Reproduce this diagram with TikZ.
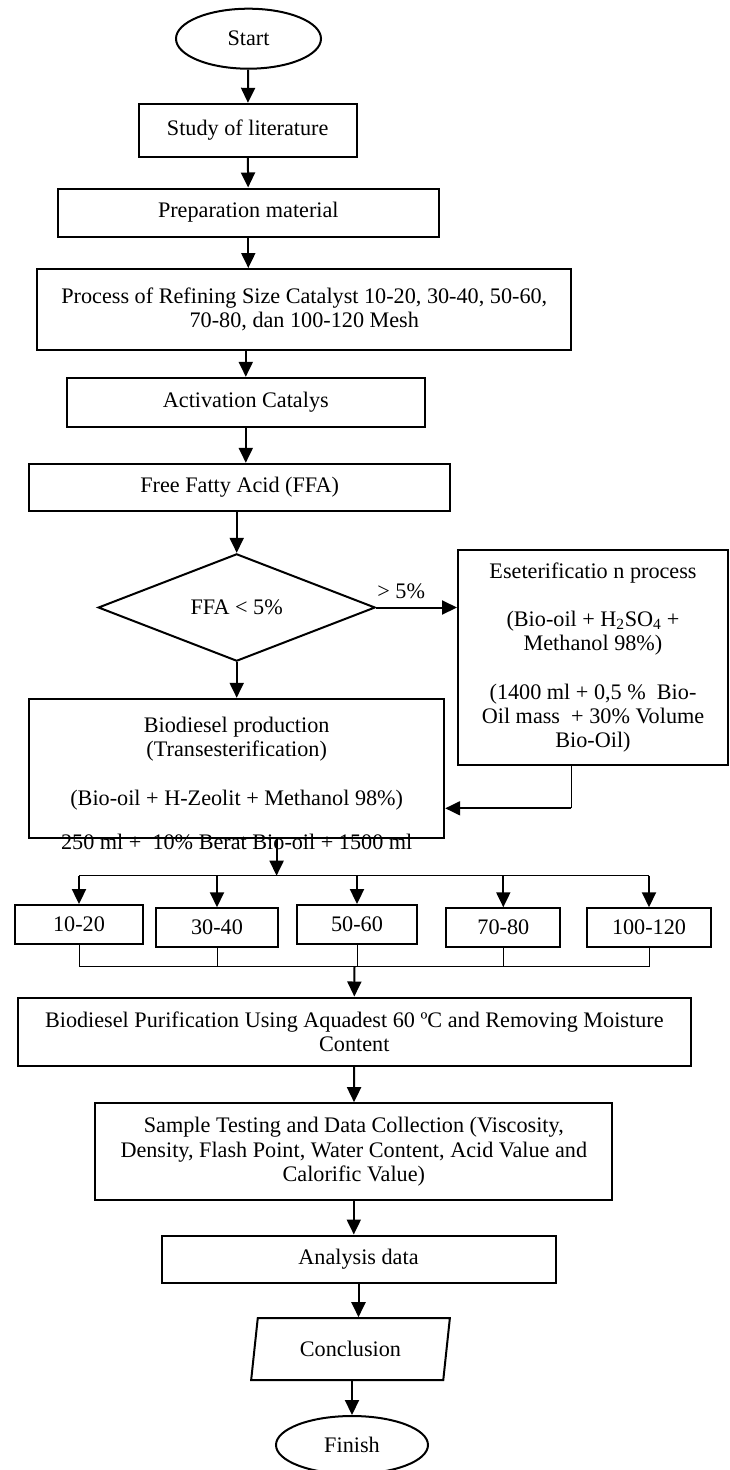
\documentclass[tikz,border=0pt]{standalone}
\usepackage{fontspec}
\setmainfont{Liberation Serif}
\usetikzlibrary{arrows.meta,shapes.geometric,positioning,calc}
\tikzset{
  term/.style = { draw, ellipse, line width=2pt, inner sep=0pt },
  proc/.style = { draw, rectangle, line width=2pt, align=center, inner sep=0pt },
  cond/.style = { draw, diamond, line width=2pt, inner sep=0pt },
  io/.style   = { draw, trapezium, trapezium left angle=77, trapezium right angle=103,
    trapezium stretches=true, line width=2pt, inner sep=0pt },
  lnk/.style  = { line width=2pt, -{Triangle[length=15pt,width=14pt]} },
  bus/.style  = { line width=1.5pt },
  thn/.style  = { line width=1pt },
  txt/.style  = { inner sep=0pt }
}
\begin{document}
\begin{tikzpicture}[x=1pt,y=-1pt,font=\fontsize{22.2}{24.2}\selectfont]
  \useasboundingbox (0,0) rectangle (729,1470);
  % start .. free fatty acid
  \node[term, minimum width=145pt, minimum height=60pt] (start) at (248.5,38.7) {Start};
  \node[proc, minimum width=218pt, minimum height=53pt] (study) at (247.7,130.3) {Study of literature};
  \node[proc, minimum width=381pt, minimum height=48pt] (prep) at (248.3,212.5) {Preparation material};
  \node[proc, minimum width=534pt, minimum height=81pt] (refine) at (304.3,309.5)
    {Process of Refining Size Catalyst 10-20, 30-40, 50-60,\\70-80, dan 100-120 Mesh};
  \node[proc, minimum width=358pt, minimum height=49pt] (activ) at (245.8,402.3) {Activation Catalys};
  \node[proc, minimum width=421pt, minimum height=47pt] (ffa) at (239.7,487.3) {Free Fatty Acid (FFA)};
  % decision, esterification and transesterification
  \node[cond, minimum width=277pt, minimum height=92pt] (test) at (236.7,607.5) {FFA < 5\%};
  \node[proc, minimum width=270pt, minimum height=215pt] (ester) at (593,657.5)
    {Eseterificatio n process\\[24pt](Bio-oil + H\textsubscript{2}SO\textsubscript{4} +\\Methanol 98\%)\\[24pt]
     (1400 ml + 0,5 \%~ Bio-\\Oil mass~ + 30\% Volume\\Bio-Oil)};
  \node[proc, minimum width=415pt, minimum height=139pt] (bio) at (236.7,768.3)
    {Biodiesel production\\(Transesterification)\\[24pt](Bio-oil + H-Zeolit + Methanol 98\%)\\[-10pt]\mbox{}};
  \node[txt] (dose) at (236.7,841.5) {250 ml +~ 10\% Berat Bio-oil + 1500 ml};
  \coordinate (back) at (571.4,808.3);
  \coordinate (split) at (276.6,875.7);
  \coordinate (join) at (354.5,966.7);
  % mesh sizes
  \foreach \nm/\px/\py/\bw/\tx in {m1/79/924.3/128/10-20, m2/217/927.5/122/30-40,
      m3/357/924.3/120/50-60, m4/503.3/927.5/114/70-80, m5/649/927.5/124/100-120}
    \node[proc, minimum width=\bw pt, minimum height=38.5pt] (\nm) at (\px,\py) {\tx};
  % purification .. finish
  \node[proc, minimum width=673pt, minimum height=68pt] (purif) at (354.3,1031.5)
    {Biodiesel Purification Using Aquadest 60 ºC and Removing Moisture\\Content};
  \node[proc, minimum width=517pt, minimum height=97pt] (sample) at (353.8,1151.7)
    {Sample Testing and Data Collection (Viscosity,\\Density, Flash Point, Water Content, Acid Value and\\Calorific Value)};
  \node[proc, minimum width=394pt, minimum height=47pt] (anal) at (358.5,1259) {Analysis data};
  \node[io, minimum width=199pt, minimum height=62pt] (concl) at (350.5,1349.2) {Conclusion};
  \node[term, minimum width=152pt, minimum height=58pt] (finish) at (352,1445) {Finish};

  \path[lnk] (start) edge (study);
  \path[lnk] (study) edge (prep);
  \draw[lnk] (prep.south) -- (prep.south |- refine.north);
  \draw[lnk] (activ.north |- refine.south) -- (activ.north);
  \draw[lnk] (activ.south) -- (activ.south |- ffa.north);
  \draw[lnk] (test.north |- ffa.south) -- (test.north);
  \draw[lnk] (test.east) -- (test.east -| ester.west) node[pos=0.31, above=4pt] {> 5\%};
  \draw[lnk] (test.south) -- (bio.north);
  \draw[thn] (ester.south -| back) -- (back);
  \draw[lnk] (back) -- (back -| bio.east);
  \draw[lnk] (bio.south -| split) -- (split);
  \draw[bus] (m1.north |- split) -- (m5.north |- split);
  \foreach \nm in {m1,m2,m3,m4,m5} {
    \draw[lnk] (\nm.north |- split) -- (\nm.north);
    \draw[thn] (\nm.south) -- (\nm.south |- join);
  }
  \draw[thn] (m1.south |- join) -- (m5.south |- join);
  \draw[lnk] (join) -- (purif.north);
  \path[lnk] (purif) edge (sample);
  \draw[lnk] (sample.south) -- (sample.south |- anal.north);
  \draw[lnk] (anal.south) -- (anal.south |- concl.north);
  \draw[lnk] (finish.north |- concl.south) -- (finish.north);
\end{tikzpicture}
\end{document}
